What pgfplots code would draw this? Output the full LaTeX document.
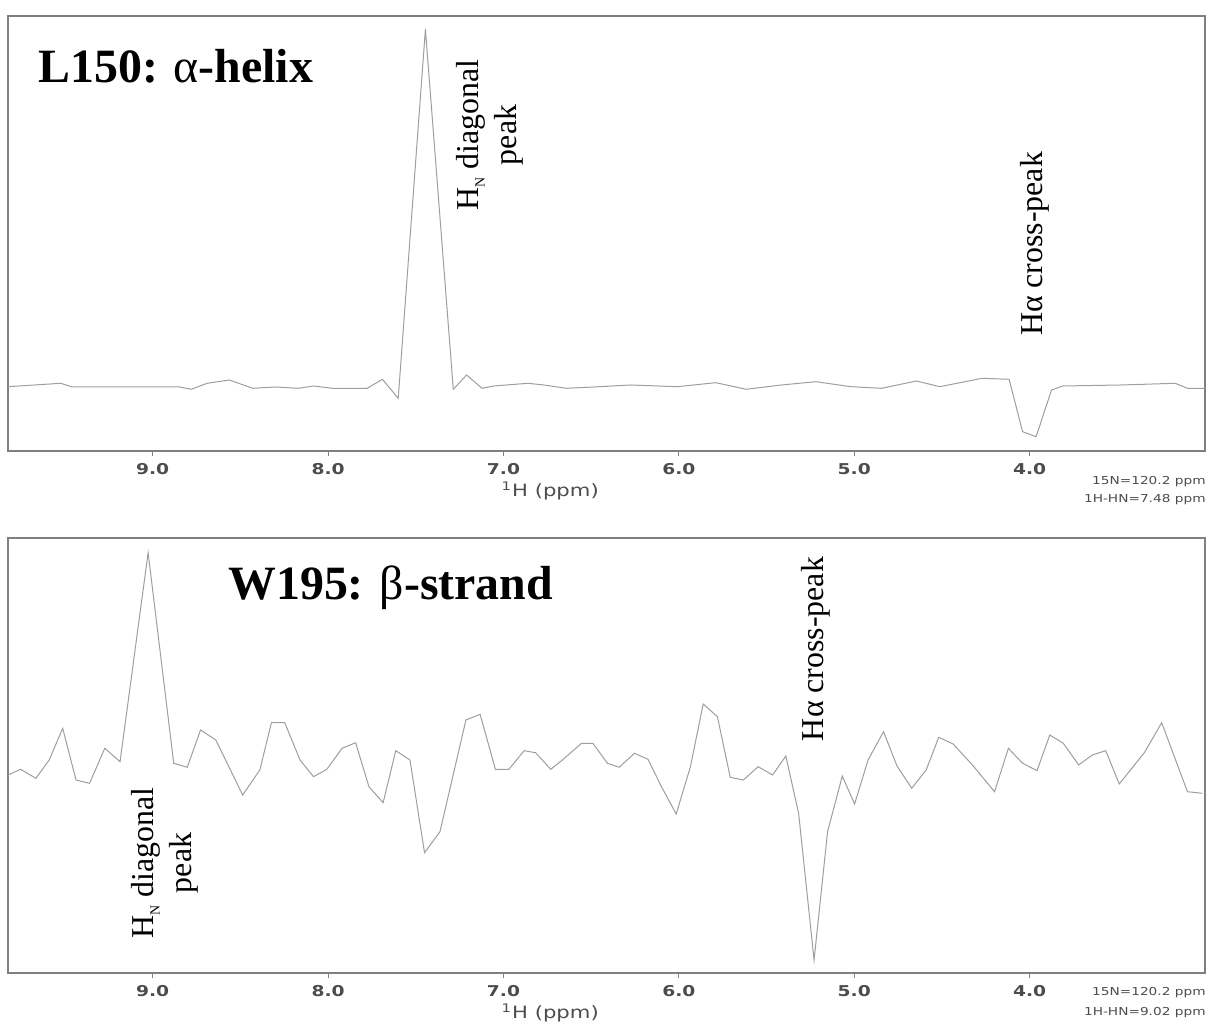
\documentclass[border=0pt]{standalone}
\usepackage{fontspec}
\setmainfont{Liberation Serif}
\newfontfamily\wsans[FakeStretch=1.25]{DejaVu Sans}
\usepackage{pgfplots}
\pgfplotsset{compat=1.18}
\definecolor{framec}{gray}{0.5}
\definecolor{tracec}{gray}{0.62}
\definecolor{tickc}{gray}{0.3}
\newcommand{\HN}{H\raisebox{-0.2em}{\fontsize{7}{7}\selectfont N}}
\pgfplotsset{nmr/.style={
  scale only axis, width=598.5bp, height=217.5bp,
  x dir=reverse, xmin=3.0, xmax=9.825, ymin=0, ymax=435,
  xtick={4,5,6,7,8,9}, xticklabels={4.0,5.0,6.0,7.0,8.0,9.0},
  ytick=\empty, xtick pos=left, tick align=outside,
  major tick length=2.5bp,
  axis line style={draw=framec, line width=1bp},
  major tick style={draw=framec, line width=0.5bp},
  xticklabel style={font=\wsans\bfseries\fontsize{7.5}{8}\selectfont, text=tickc},
  /pgf/number format/assume math mode=true,
  xlabel={\textsuperscript{1}H (ppm)},
  xlabel style={font=\wsans\fontsize{8.5}{9}\selectfont, text=tickc, at={(axis description cs:0.453,0)}, anchor=center, yshift=-20bp},
  anchor=south west,
}}
\begin{document}
\begin{tikzpicture}
\path[use as bounding box] (0,0) rectangle (603bp,513.5bp);
% top panel
\begin{axis}[nmr, at={(4bp,288bp)}]
\addplot[tracec, line width=0.5bp] table {
9.825 64.3
9.524 67.7
9.459 64
8.847 64
8.78 61.7
8.69 67.7
8.563 71
8.43 62.7
8.30 64
8.17 62.7
8.083 65
7.974 62.7
7.777 62.7
7.69 71.7
7.60 52.7
7.445 421.7
7.286 61.7
7.21 76
7.122 62.7
7.057 65
6.86 67.7
6.77 66
6.64 62.7
6.45 64.3
6.275 66
6.01 64.3
5.79 68.3
5.615 61.7
5.416 66
5.218 69.3
5.02 64.3
4.844 62.7
4.645 70
4.513 64.3
4.27 72.7
4.117 71.7
4.04 19.3
3.963 14.3
3.875 61
3.81 65
3.478 66
3.17 67.7
3.10 62.7
3.0 62.7
};
\end{axis}
% bottom panel
\begin{axis}[nmr, at={(4bp,27bp)}]
\addplot[tracec, line width=0.5bp] table {
9.825 198
9.753 203.7
9.666 194.7
9.59 213
9.513 244.7
9.437 193
9.36 189.7
9.273 224.7
9.186 211.3
9.026 420.3
8.88 209.7
8.803 205.7
8.727 243
8.64 233
8.487 178
8.389 203
8.323 250.3
8.247 250.3
8.16 213
8.083 196.3
8.007 203.7
7.92 224.7
7.843 230.3
7.767 186.3
7.686 170.3
7.614 222.3
7.533 213
7.45 120.3
7.362 141.3
7.214 253
7.133 258.7
7.046 203.7
6.969 203.7
6.882 222.3
6.817 220.3
6.73 203.7
6.664 213
6.555 229.7
6.49 229.7
6.407 209.7
6.34 205.7
6.253 219.7
6.176 213.7
6.099 186.3
6.015 159
5.934 206.3
5.861 269
5.78 256.3
5.707 195.7
5.632 193
5.548 206.3
5.465 198
5.39 217
5.317 159.7
5.229 13
5.152 141.3
5.068 197
4.998 169
4.921 213
4.833 241.3
4.756 207
4.672 184.7
4.59 203
4.518 235.7
4.436 229
4.326 208
4.2 181.3
4.121 224.7
4.04 209.7
3.958 202.3
3.885 238
3.808 229.7
3.72 208
3.643 218
3.566 222.3
3.489 189
3.346 220.3
3.247 250.3
3.10 181.3
3.015 179.7
};
\end{axis}
% annotations
\node[anchor=base west, inner sep=0pt, font=\fontsize{24}{28}\selectfont\bfseries] at (19bp,472bp) {L150: {\mdseries α}-helix};
\node[rotate=90, align=center, inner sep=0pt, font=\fontsize{16}{19}\selectfont] at (244.75bp,446bp) {\HN{} diagonal\\peak};
\node[rotate=90, inner sep=0pt, font=\fontsize{16}{19}\selectfont] at (517.5bp,391.5bp) {Hα cross-peak};
\node[anchor=base west, inner sep=0pt, font=\fontsize{24}{28}\selectfont\bfseries] at (114bp,213.5bp) {W195: {\mdseries β}-strand};
\node[rotate=90, align=center, inner sep=0pt, font=\fontsize{16}{19}\selectfont] at (82.25bp,82bp) {\HN{} diagonal\\peak};
\node[rotate=90, inner sep=0pt, font=\fontsize{16}{19}\selectfont] at (408bp,189bp) {Hα cross-peak};
% footnotes
\begin{scope}[every node/.style={anchor=east, inner sep=0pt, text=tickc, font=\wsans\fontsize{5.5}{6}\selectfont}]
\node at (603bp,272.5bp) {15N=120.2 ppm};
\node at (603bp,263.5bp) {1H-HN=7.48 ppm};
\node at (603bp,17bp) {15N=120.2 ppm};
\node at (603bp,7bp) {1H-HN=9.02 ppm};
\end{scope}
\end{tikzpicture}
\end{document}
